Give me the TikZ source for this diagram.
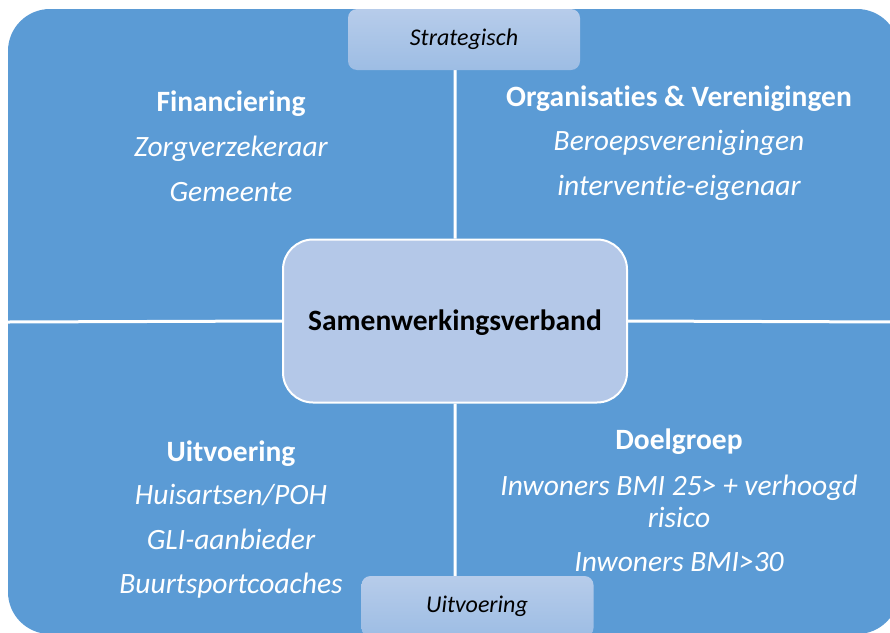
\documentclass[tikz,border=0pt]{standalone}
\usepackage{fontspec}
\setmainfont{Carlito}[RawFeature={-liga}]
\usetikzlibrary{positioning}
\definecolor{vlakblauw}{HTML}{5B9BD5}
\definecolor{kernblauw}{HTML}{B4C8E8}
\definecolor{tabboven}{HTML}{B7CCEA}
\definecolor{tabonder}{HTML}{9DBDE4}
\tikzset{kop/.style={text=white,anchor=base,font=\bfseries\fontsize{29.5}{34}\selectfont},
         item/.style={text=white,anchor=base,align=center,font=\itshape\fontsize{29.5}{34}\selectfont},
         tab node/.style={rounded corners=9pt,minimum width=232pt,minimum height=61pt,
                          top color=tabboven,bottom color=tabonder,inner sep=0pt},
         kern node/.style={rounded corners=30pt,fill=kernblauw,draw=white,line width=2pt,
                           minimum width=344pt,minimum height=163pt},
         scheiding/.style={draw=white,line width=3pt}
            }
\begin{document}
\begin{tikzpicture}[x=1pt,y=-1pt]
        \useasboundingbox (0,0) rectangle (890,632);
        \fill[vlakblauw,rounded corners=42pt] (8,9) rectangle (899,634);

        % assen
        \coordinate (links) at (8,322);
        \coordinate (rechts) at (899,322);
        \node[kern node] (kern) at (455,321) {};
        \coordinate (boven) at (455,70);
        \coordinate (onder) at (455,576);
        \path[scheiding]
        (links) -- (kern.west)
        (kern.east) -- (rechts)
        (kern.north) -- (boven)
        (kern.south) -- (onder);
        \node[tab node] (strat) at (464,39.5) {};
        \node[tab node] (uitv) at (477.5,606.5) {};
        \node[anchor=base,font=\bfseries\fontsize{29.5}{34}\selectfont] (samen) at (455,330) {Samenwerkingsverband};
        \node[anchor=base,font=\itshape\fontsize{24}{28}\selectfont] (stratlabel) at (464,45) {Strategisch};
        \node[anchor=base,font=\itshape\fontsize{24}{28}\selectfont] (uitvlabel) at (477,612) {Uitvoering};

        % linksboven
        \node[kop] (fin) at (231,111) {Financiering};
        \node[item] (zorg) at (231,156) {Zorgverzekeraar};
        \node[item] (gem) at (231,201) {Gemeente};
        % rechtsboven
        \node[kop] (org) at (679,106) {Organisaties \& Verenigingen};
        \node[item] (beroep) at (679,150) {Beroepsverenigingen};
        \node[item] (eigen) at (679,195) {interventie-eigenaar};
        % linksonder
        \node[kop] (uit) at (231,461) {Uitvoering};
        \node[item] (huis) at (231,504) {Huisartsen/POH};
        \node[item] (gli) at (231,549) {GLI-aanbieder};
        \node[item] (buurt) at (231,593) {Buurtsportcoaches};
        % rechtsonder
        \node[kop] (doel) at (679,449) {Doelgroep};
        \node[item] (bmi) at (679,495) {Inwoners BMI 25> + verhoogd};
        \node[item] (risico) at (679,527) {risico};
        \node[item] (obes) at (679,571) {Inwoners BMI>30};
      \end{tikzpicture}
\end{document}
